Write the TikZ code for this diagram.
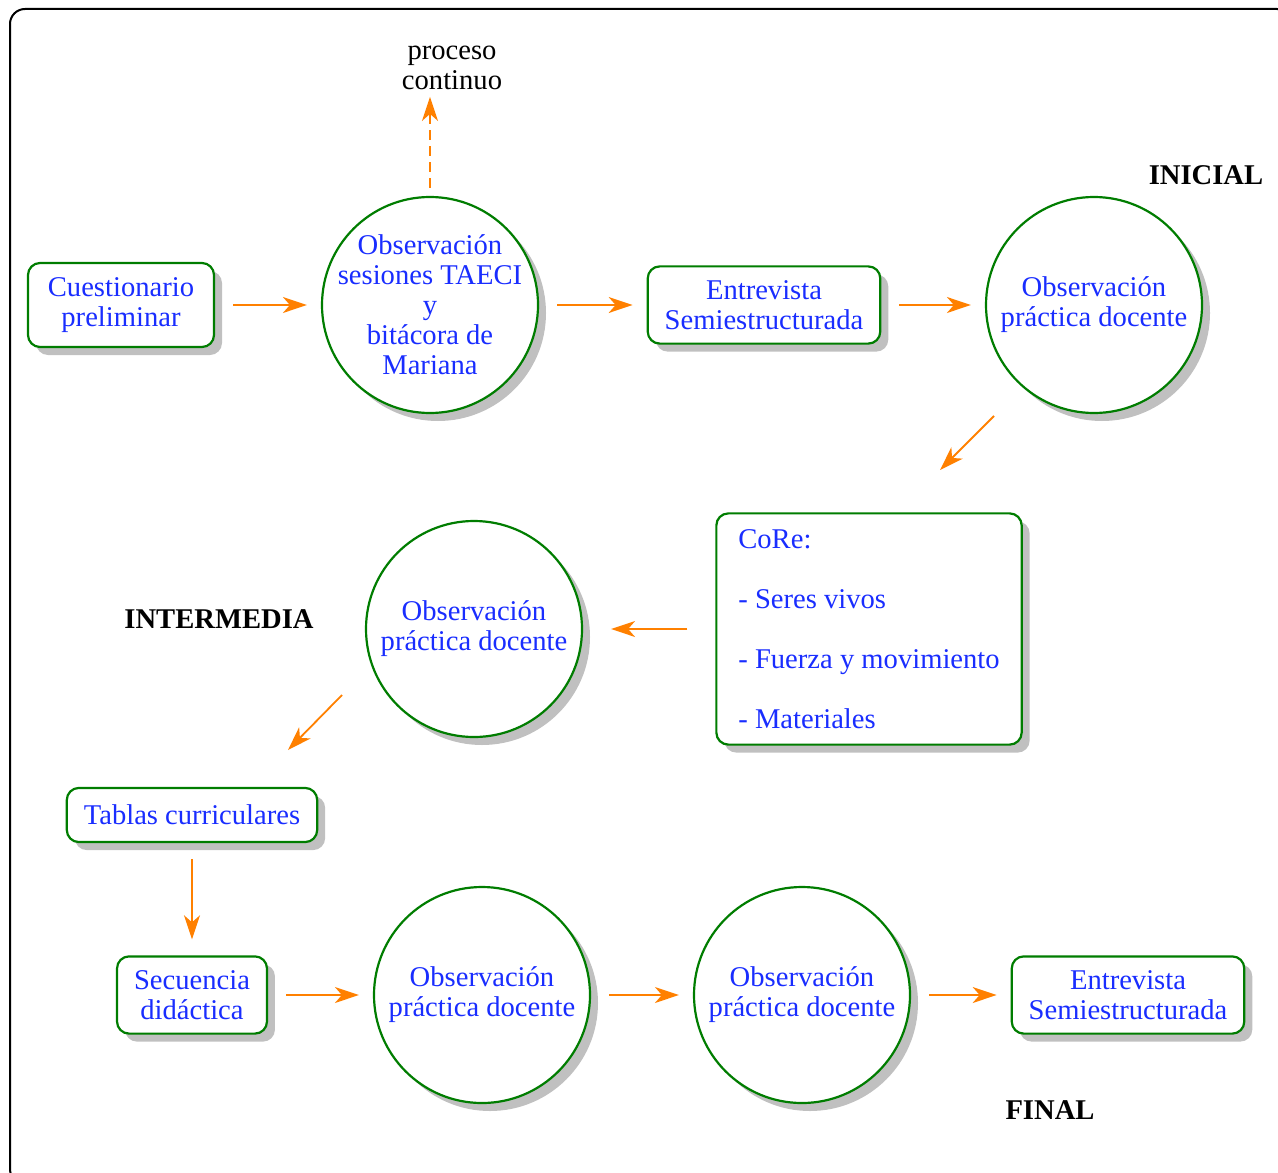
\documentclass[tikz,border=0pt]{standalone}
\usepackage{fontspec}
\setmainfont{Liberation Serif}
\usepackage{tikz}
\usetikzlibrary{arrows.meta,shadows}
\definecolor{azul}{RGB}{25,45,255}
\definecolor{verde}{RGB}{0,125,0}
\definecolor{naranja}{RGB}{255,128,0}
\definecolor{sombra}{RGB}{192,192,192}
\newcommand{\tam}{\fontsize{14.3pt}{15pt}\selectfont}

\tikzset{
  >={Stealth[length=12pt,width=8pt,inset=3.5pt]},
  sombreado/.style={drop shadow={shadow xshift=4pt,shadow yshift=-4pt,fill=sombra,opacity=1}},
  caja/.style={draw=verde,line width=1.1pt,fill=white,rounded corners=6pt,text=azul,
    align=center,inner xsep=8.5pt,inner ysep=7pt,sombreado},
  circulo/.style={circle,draw=verde,line width=1.1pt,fill=white,text=azul,
    align=center,minimum size=108pt,inner sep=0pt,sombreado},
  flecha/.style={->,draw=naranja,line width=0.9pt,shorten <=9pt,shorten >=7pt},
  etapa/.style={font=\tam\bfseries}
}

\begin{document}
\begin{tikzpicture}[x=0.5pt,y=-0.5pt,font=\tam]
    \useasboundingbox (0,0) rectangle (1278,1172);
    \begin{scope}
        \clip (0,0) rectangle (1278,1172);
        \draw[line width=1pt,rounded corners=7.5pt] (10,9) rectangle (1292,1184);
    \end{scope}

    % etapa inicial
    \node[caja,minimum width=93pt,minimum height=42pt] (cuest) at (121,305) {Cuestionario\\preliminar};
    \node[circulo,inner sep=-5.5pt] (obs1) at (430,305) {Observaci\'on\\sesiones TAECI\\y\\bit\'acora de\\Mariana};
    \node[align=center] (cont) at (452,68) {proceso\\continuo};
    \node[caja] (ent1) at (764,305) {Entrevista\\Semiestructurada};
    \node[circulo] (obs2) at (1094,305) {Observaci\'on\\pr\'actica docente};
    \node[etapa] (ini) at (1206,175) {INICIAL};

    % etapa intermedia
    \node[caja,align=left,inner xsep=11pt,inner ysep=8pt] (core) at (869,629)
        {CoRe:\\[15pt]- Seres vivos\\[15pt]- Fuerza y movimiento\\[15pt]- Materiales};
    \node[circulo] (obs3) at (474,629) {Observaci\'on\\pr\'actica docente};
    \node[etapa] (inter) at (219,619) {INTERMEDIA};
    \node[caja,inner ysep=8.5pt] (tablas) at (192,815) {Tablas curriculares};

    % etapa final
    \node[caja] (sec) at (192,995) {Secuencia\\did\'actica};
    \node[circulo] (obs4) at (482,995) {Observaci\'on\\pr\'actica docente};
    \node[circulo] (obs5) at (802,995) {Observaci\'on\\pr\'actica docente};
    \node[caja] (ent2) at (1128,995) {Entrevista\\Semiestructurada};
    \node[etapa] (fin) at (1050,1110) {FINAL};

    \coordinate (d1) at (994,416);
    \coordinate (d2) at (940,470);
    \coordinate (d3) at (342,695);
    \coordinate (d4) at (288,750);

    \draw[flecha] (cuest)--(obs1);
    \draw[flecha,dashed,dash pattern=on 5pt off 3pt,shorten >=0pt,shorten <=4pt] (obs1.north)--(obs1.north |- cont.south);
    \draw[flecha] (obs1)--(ent1);
    \draw[flecha] (ent1)--(obs2);
    \draw[flecha,shorten <=0pt,shorten >=0pt] (d1)--(d2);
    \draw[flecha,shorten <=14pt,shorten >=14pt] (core)--(obs3);
    \draw[flecha,shorten <=0pt,shorten >=0pt] (d3)--(d4);
    \draw[flecha,shorten <=8pt,shorten >=8pt] (tablas)--(sec);
    \draw[flecha] (sec)--(obs4);
    \draw[flecha] (obs4)--(obs5);
    \draw[flecha] (obs5)--(ent2);
\end{tikzpicture}
\end{document}
